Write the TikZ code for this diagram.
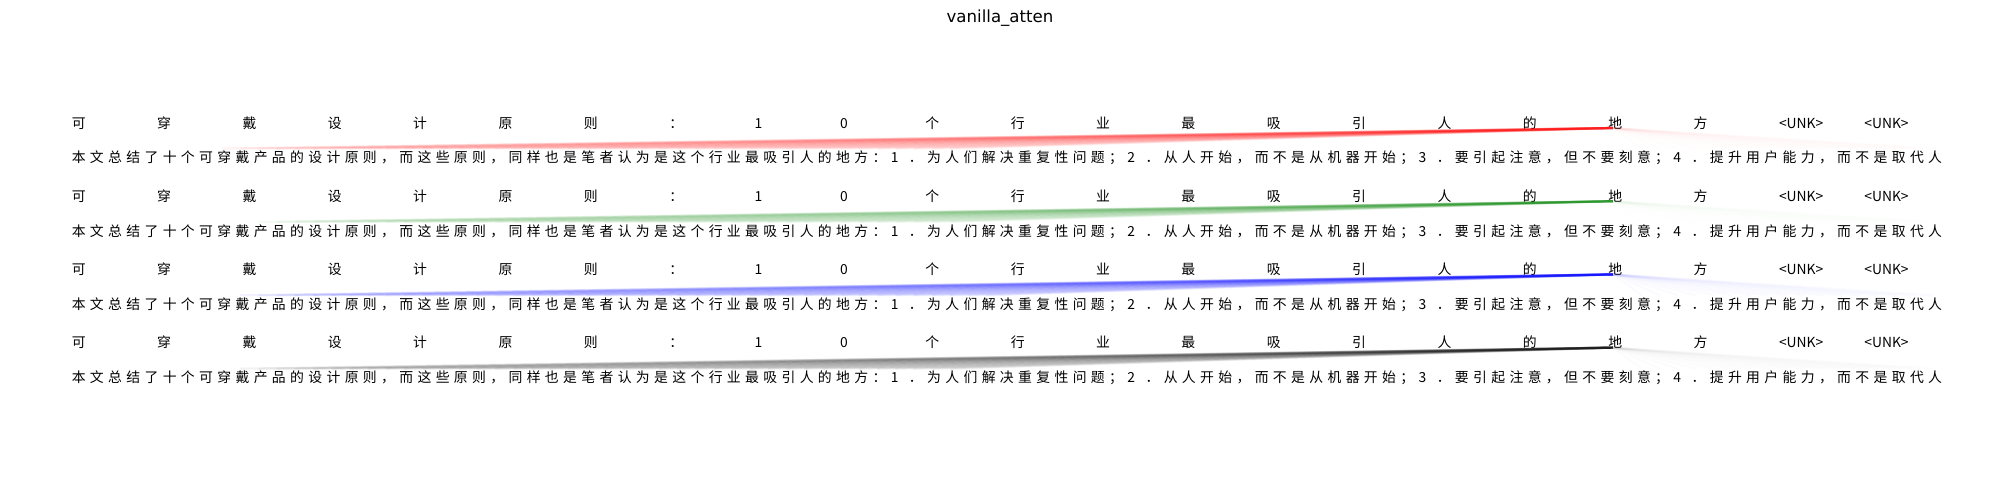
\documentclass[tikz,border=0pt]{standalone}
\usepackage{fontspec}
\newfontfamily\cjk{Noto Sans CJK SC}
\newfontfamily\titlefont{DejaVu Sans}

\begin{document}
\begin{tikzpicture}[
                x=0.01in,
                y=-0.01in,
                every node/.style={
                  inner sep=0pt,
                  anchor=west,
                  font=\cjk\fontsize{10}{12}\selectfont,
                },
                tok/.style={text height=8pt, text depth=0.4pt},
                attn/.style={line width=1.6pt},
              ]
              \useasboundingbox (0,0) rectangle (2000,500);
              \node[anchor=center, font=\titlefont\fontsize{12}{14}\selectfont] (title) at (1000,18) {vanilla\_atten};
              % one block per colour: query tokens on top, source characters below
              \foreach \k/\col/\lo/\hi/\a/\r in {0/red/8/48/.05/.01, 1/green!50!black/10/48/.045/.008,
                                              2/blue/9/50/.055/.016, 3/black/9/48/.05/.01} {
                \foreach \w [count=\i from 0] in {可,穿,戴,设,计,原,则,：,1,0,个,行,业,最,吸,引,人,的,地,方,<UNK>,<UNK>}
                  \node[tok] (t\k-\i) at ({71.5+85.36*\i},{123+73.2*\k}) {\w};
                \foreach \w [count=\j from 0] in {本,文,总,结,了,十,个,可,穿,戴,产,品,的,设,计,原,则,，,而,这,些,原,则,，,同,样,也,是,笔,者,认,为,是,这,个,行,业,最,吸,引,人,的,地,方,：,1,．,为,人,们,解,决,重,复,性,问,题,；,2,．,从,人,开,始,，,而,不,是,从,机,器,开,始,；,3,．,要,引,起,注,意,，,但,不,要,刻,意,；,4,．,提,升,用,户,能,力,，,而,不,是,取,代,人}
                  \node[tok] (b\k-\j) at ({71.5+18.2*\j},{157.5+73.4*\k}) {\w};
                % attention of 地 on the source characters
                \foreach \j in {\lo,...,\hi}
                  \draw[attn, draw=\col, opacity=\a] ([xshift=3.6pt,yshift=-3.6pt]t\k-18.west) -- ([xshift=3.6pt,yshift=6.5pt]b\k-\j.west);
                \foreach \j in {86,...,102}
                  \draw[attn, draw=\col, opacity=\r] ([xshift=3.6pt,yshift=-3.6pt]t\k-18.west) -- ([xshift=3.6pt,yshift=6.5pt]b\k-\j.west);
              }
\end{tikzpicture}
\end{document}
